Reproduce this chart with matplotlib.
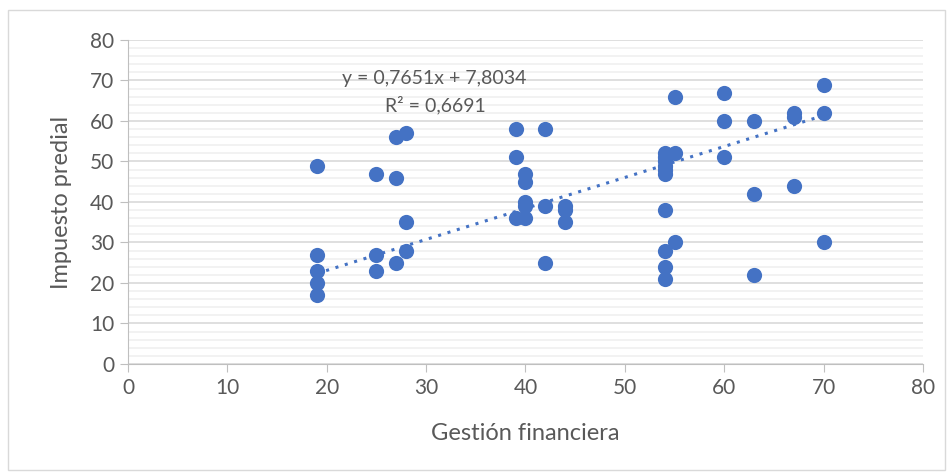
import numpy as np
import matplotlib
matplotlib.use("Agg")
import matplotlib.pyplot as plt
from matplotlib.patches import Rectangle

plt.rcParams['font.family'] = ['Lato', 'DejaVu Sans']

# data
gestion = [19, 19, 19, 19, 19,
           25, 25, 25,
           27, 27, 27,
           28, 28, 28,
           39, 39, 39,
           40, 40, 40, 40, 40,
           42, 42, 42,
           44, 44, 44,
           54, 54, 54, 54, 54, 54, 54, 54, 54, 54,
           55, 55, 55,
           60, 60, 60,
           63, 63, 63,
           67, 67, 67,
           70, 70, 70]
impuesto = [49, 27, 23, 20, 17,
            47, 27, 23,
            56, 46, 25,
            57, 35, 28,
            58, 51, 36,
            47, 45, 40, 39, 36,
            58, 39, 25,
            39, 38, 35,
            52, 51, 50, 49, 48, 47, 38, 28, 24, 21,
            66, 52, 30,
            67, 60, 51,
            60, 42, 22,
            62, 61, 44,
            69, 62, 30]

slope = 0.7651
intercept = 7.8034
r2 = 0.6691

blue = '#4472C4'
grey_txt = '#595959'

fig = plt.figure(figsize=(9.53, 4.76), dpi=100)
ax = fig.add_axes([0.1343, 0.2353, 0.8342, 0.6807])

# outer chart border
fig.patches.append(Rectangle((8 / 953, 1 - 470 / 476), 937 / 953, 460 / 476,
                             transform=fig.transFigure, fill=False,
                             edgecolor='#D9D9D9', linewidth=1))

ax.scatter(gestion, impuesto, s=120, color=blue, zorder=3, linewidths=0)

# linear trendline
xt = np.linspace(min(gestion), max(gestion), 100)
ax.plot(xt, slope * xt + intercept, linestyle=(0, (1, 2.2)), color=blue,
        linewidth=2.2, zorder=2)

ax.text(30.8, 70.6, 'y = 0,7651x + 7,8034', ha='center', va='center',
        fontsize=14, color=grey_txt)
ax.text(30.9, 64.0, 'R² = 0,6691', ha='center', va='center',
        fontsize=14, color=grey_txt)

ax.set_xlim(0, 80)
ax.set_ylim(0, 80)
ax.set_xticks(np.arange(0, 81, 10))
ax.set_yticks(np.arange(0, 81, 10))
ax.set_yticks(np.arange(0, 81, 2), minor=True)
ax.tick_params(axis='y', which='minor', length=0)
ax.tick_params(axis='both', which='major', length=6, color='#BFBFBF',
               labelsize=15, labelcolor=grey_txt, pad=4)
ax.grid(True, axis='y', which='major', color='#D9D9D9', linewidth=1.2)
ax.grid(True, axis='y', which='minor', color='#F0F0F0', linewidth=1.2)
ax.set_axisbelow(True)

for s in ['top', 'right']:
    ax.spines[s].set_visible(False)
for s in ['left', 'bottom']:
    ax.spines[s].set_color('#BFBFBF')

ax.set_xlabel('Gestión financiera', fontsize=17, color=grey_txt)
ax.set_ylabel('Impuesto predial', fontsize=17, color=grey_txt)
ax.xaxis.set_label_coords(0.5, -0.213)
ax.yaxis.set_label_coords(-0.084, 0.5)
ax.xaxis.label.set_va('center')
ax.yaxis.label.set_va('center')

fig.savefig('out.png', dpi=100)
